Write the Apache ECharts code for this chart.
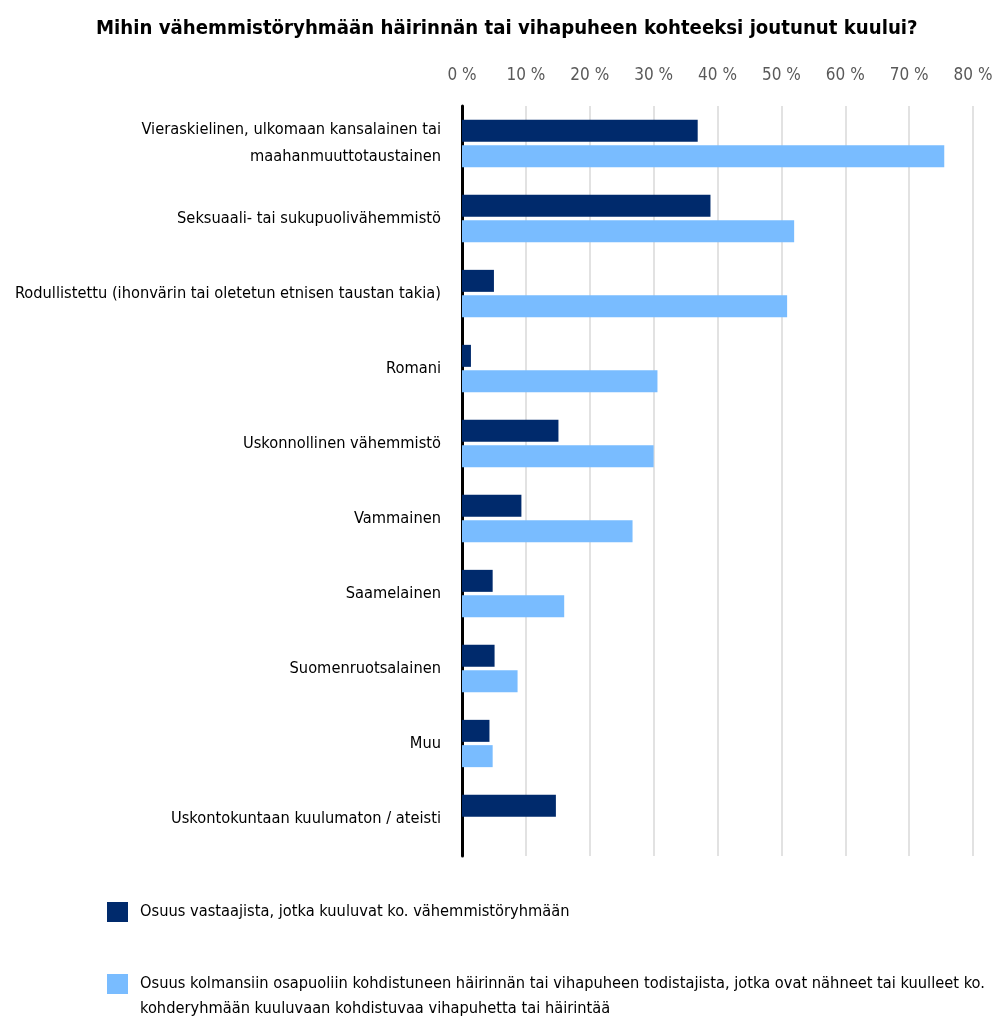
<!DOCTYPE html>
<html>
<head>
<meta charset="utf-8">
<script src="https://cdn.jsdelivr.net/npm/echarts@6/dist/echarts.min.js"></script>
<style>
  html, body { margin: 0; padding: 0; background: #fff; }
  #main { width: 995px; height: 1022px; }
</style>
</head>
<body>
<div id="main"></div>
<script>
let categories = [
    'Vieraskielinen, ulkomaan kansalainen tai\nmaahanmuuttotaustainen',
    'Seksuaali- tai sukupuolivähemmistö',
    'Rodullistettu (ihonvärin tai oletetun etnisen taustan takia)',
    'Romani',
    'Uskonnollinen vähemmistö',
    'Vammainen',
    'Saamelainen',
    'Suomenruotsalainen',
    'Muu',
    'Uskontokuntaan kuulumaton / ateisti'
];
let seriesNames = [
    'Osuus vastaajista, jotka kuuluvat ko. vähemmistöryhmään',
    'Osuus kolmansiin osapuoliin kohdistuneen häirinnän tai vihapuheen todistajista, jotka ovat nähneet tai kuulleet ko.'
];
let legendSecondLine = 'kohderyhmään kuuluvaan kohdistuvaa vihapuhetta tai häirintää';
let memberValues = [36.9, 38.9, 5.0, 1.4, 15.1, 9.3, 4.8, 5.1, 4.3, 14.7];
let witnessValues = [75.5, 52.0, 50.9, 30.6, 30.0, 26.7, 16.0, 8.7, 4.8, null];
let xTicks = { min: 0, max: 80, interval: 10 };

let font = "'Liberation Sans Narrow', 'DejaVu Sans Condensed', sans-serif";
let darkBlue = '#002a6c';
let lightBlue = '#79bcff';
let textSize = 16.3;

let myChart = echarts.init(document.getElementById('main'));

let option = {
    animation: false,
    textStyle: { fontFamily: font },
    title: {
        text: 'Mihin vähemmistöryhmään häirinnän tai vihapuheen kohteeksi joutunut kuului?',
        left: 91,
        top: 14,
        textStyle: { fontFamily: font, fontWeight: 'bold', fontSize: 20.2, color: '#000' }
    },
    legend: [
        {
            data: [seriesNames[0]],
            left: 102,
            top: 897,
            icon: 'rect',
            itemWidth: 21,
            itemHeight: 20,
            textStyle: { fontFamily: font, fontSize: textSize, color: '#000', padding: [0, 0, 0, 7] }
        },
        {
            data: [seriesNames[1]],
            left: 102,
            top: 969,
            icon: 'rect',
            itemWidth: 21,
            itemHeight: 20,
            textStyle: { fontFamily: font, fontSize: textSize, color: '#000', padding: [0, 0, 0, 7] }
        }
    ],
    graphic: [
        {
            type: 'text',
            left: 140,
            top: 1001,
            style: { text: legendSecondLine, fontFamily: font, fontSize: textSize, fill: '#000' }
        }
    ],
    grid: {
        left: 462,
        right: 22,
        top: 106,
        bottom: 166,
        outerBoundsMode: 'none'
    },
    xAxis: {
        type: 'value',
        position: 'top',
        min: xTicks.min,
        max: xTicks.max,
        interval: xTicks.interval,
        axisLine: { show: false },
        axisTick: { show: false },
        axisLabel: {
            formatter: '{value} %',
            margin: 22,
            fontFamily: font,
            fontSize: 17,
            color: '#595959'
        },
        splitLine: { lineStyle: { color: '#d9d9d9', width: 1.5 } }
    },
    yAxis: {
        type: 'category',
        inverse: true,
        data: categories,
        axisLine: { lineStyle: { color: '#000', width: 3 } },
        axisTick: { show: false },
        axisLabel: {
            margin: 21,
            fontFamily: font,
            fontSize: textSize,
            color: '#000',
            lineHeight: 27
        }
    },
    series: [
        {
            name: seriesNames[0],
            type: 'bar',
            data: memberValues,
            barWidth: 22,
            barGap: '15%',
            itemStyle: { color: darkBlue }
        },
        {
            name: seriesNames[1],
            type: 'bar',
            data: witnessValues,
            barWidth: 22,
            itemStyle: { color: lightBlue }
        }
    ]
};

myChart.setOption(option);
</script>
</body>
</html>
